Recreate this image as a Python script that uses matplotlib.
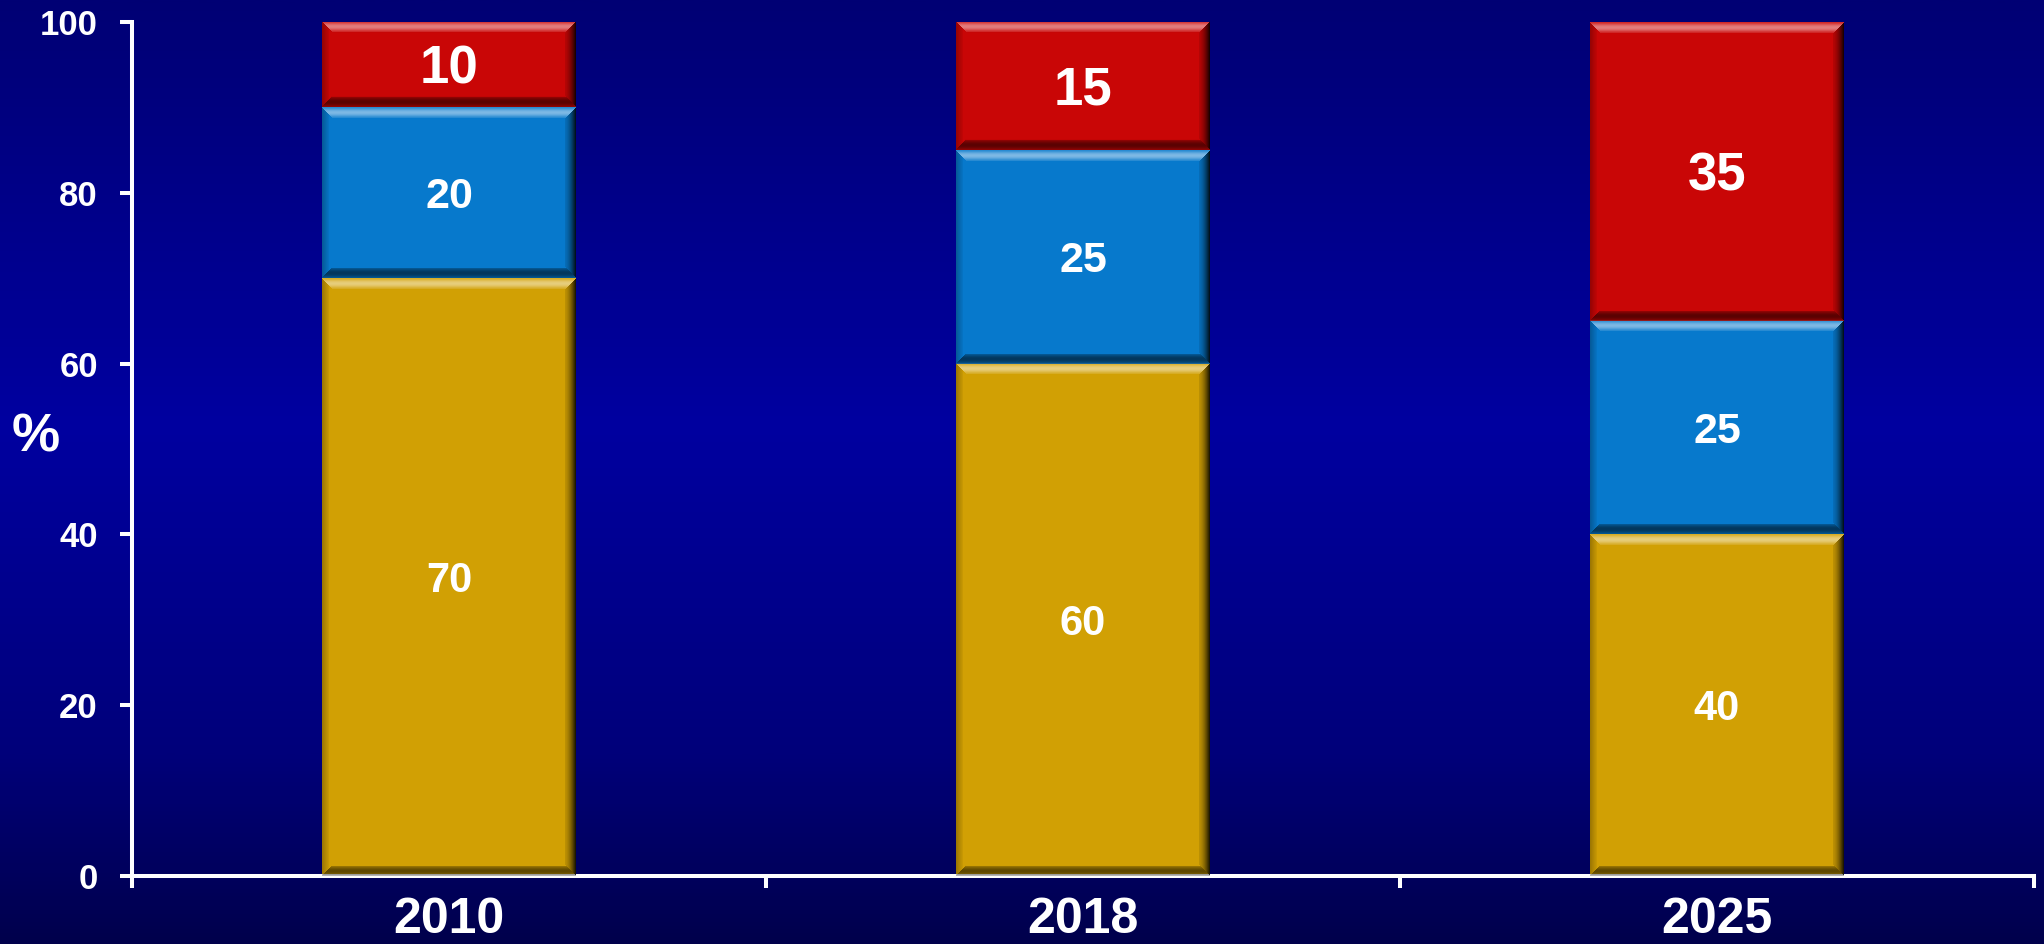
import numpy as np
import matplotlib
matplotlib.use("Agg")
import matplotlib.pyplot as plt
from matplotlib.colors import LinearSegmentedColormap
from matplotlib.transforms import offset_copy

plt.rcParams['font.family'] = ['Liberation Sans', 'DejaVu Sans']
plt.rcParams['font.weight'] = 'bold'

# Data
years = ['2010', '2018', '2025']
share_gold = [70, 60, 40]
share_blue = [20, 25, 25]
share_red = [10, 15, 35]

series = [
    (share_gold, '#D1A004', 30),
    (share_blue, '#0779CC', 31),
    (share_red, '#C90606', 38),
]

W_PX, H_PX, DPI = 2044, 944, 100
fig = plt.figure(figsize=(W_PX / DPI, H_PX / DPI), dpi=DPI)

# Background: vertical navy gradient
bg = fig.add_axes([0, 0, 1, 1], zorder=-10)
bg_cmap = LinearSegmentedColormap.from_list(
    'navy', [(0.0, '#000074'), (0.45, '#0000A0'), (0.8, '#00007A'), (1.0, '#00004C')])
bg.imshow(np.linspace(0, 1, 512)[:, None], aspect='auto', cmap=bg_cmap,
          extent=[0, 1, 0, 1], origin='upper')
bg.set_axis_off()

ax = fig.add_axes([132 / W_PX, 1 - 876 / H_PX, (2034 - 132) / W_PX, (876 - 22) / H_PX])
ax.patch.set_alpha(0)
ax.set_xlim(-0.5, 2.5)
ax.set_ylim(0, 100)

x = np.arange(len(years))
bar_w = 0.4


def bevel(ax, rect, b=11.0):
    """Overlay a bevelled-edge shading on one bar segment."""
    rx, ry, rw, rh = rect.get_x(), rect.get_y(), rect.get_width(), rect.get_height()
    (px0, py0), (px1, py1) = ax.transData.transform([[rx, ry], [rx + rw, ry + rh]])
    W = max(int(round(px1 - px0)), 2)
    H = max(int(round(py1 - py0)), 2)
    yy, xx = np.mgrid[0:H, 0:W] + 0.5
    dt, db, dl, dr = yy, H - yy, xx, W - xx
    rgba = np.zeros((H, W, 4))

    top = (dt < b) & (dt <= dl) & (dt <= dr) & (dt <= db)
    bot = (db < b * 0.9) & (db <= dl) & (db <= dr) & (db < dt)
    right = (dr < b) & (dr < dt) & (dr < db)
    left = (dl < b * 0.6) & (dl < dt) & (dl < db) & (dl < dr)

    t = dt / b
    rgba[top, :3] = 1.0
    rgba[top, 3] = (0.12 + 0.36 * np.sin(np.pi * np.clip(t, 0, 1)) ** 1.5)[top]

    tb = db / (b * 0.9)
    rgba[bot, :3] = 0.0
    rgba[bot, 3] = (0.25 + 0.30 * np.sin(np.pi * np.clip(tb, 0, 1)))[bot]

    tr = 1 - dr / b
    rgba[right, :3] = 0.0
    rgba[right, 3] = (0.10 + 0.82 * tr ** 1.6)[right]

    tl = 1 - dl / (b * 0.6)
    rgba[left, :3] = 0.0
    rgba[left, 3] = (0.05 + 0.22 * tl)[left]

    ax.imshow(rgba, extent=[rx, rx + rw, ry, ry + rh], origin='upper',
              aspect='auto', interpolation='bilinear', zorder=3)


bottom = np.zeros(len(years))
for values, color, fsize in series:
    vals = np.array(values, dtype=float)
    bars = ax.bar(x, vals, bar_w, bottom=bottom, color=color,
                  linewidth=0, zorder=2)
    # baseline shifted down by half the digit height so digits sit centred
    trans = offset_copy(ax.transData, fig=fig, x=0, y=-0.358 * fsize, units='points')
    for rect, v, b0 in zip(bars, vals, bottom):
        bevel(ax, rect)
        ax.text(rect.get_x() + rect.get_width() / 2, b0 + v / 2, f'{v:.0f}',
                ha='center', va='baseline', color='white', fontsize=fsize,
                fontweight='bold', zorder=5, transform=trans)
    bottom += vals

ax.set_xlim(-0.5, 2.5)
ax.set_ylim(0, 100)

# Axes styling
for side in ('top', 'right'):
    ax.spines[side].set_visible(False)
for side in ('left', 'bottom'):
    ax.spines[side].set_color('white')
    ax.spines[side].set_linewidth(2.9)

ax.set_yticks(range(0, 101, 20))
ax.tick_params(axis='y', length=8.6, width=2.9, color='white', direction='out',
               pad=16, labelsize=25, labelcolor='white')
ax.set_xticks(x)
ax.set_xticklabels(years)
ax.set_xticks([-0.5, 0.5, 1.5, 2.5], minor=True)
ax.tick_params(axis='x', which='major', length=0, pad=15, labelsize=36,
               labelcolor='white')
ax.tick_params(axis='x', which='minor', length=8.6, width=2.9, color='white',
               direction='out')
for lbl in ax.get_xticklabels() + ax.get_yticklabels():
    lbl.set_fontweight('bold')

fig.text(36 / W_PX, 1 - 438 / H_PX, '%', ha='center', va='center',
         color='white', fontsize=39, fontweight='bold')

fig.savefig('out.png', dpi=DPI)
